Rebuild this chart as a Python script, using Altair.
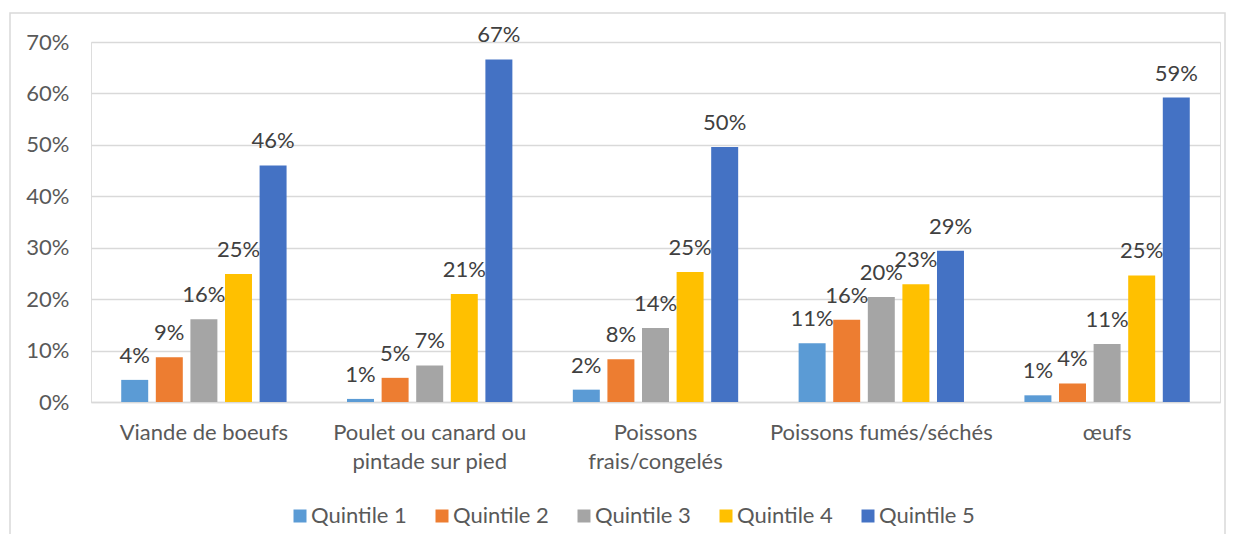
import altair as alt
import pandas as pd

categories = ["Viande de boeufs", "Poulet ou canard ou pintade sur pied",
              "Poissons frais/congelés", "Poissons fumés/séchés", "œufs"]
quintiles = ["Quintile 1", "Quintile 2", "Quintile 3", "Quintile 4", "Quintile 5"]
q1 = [0.043, 0.006, 0.024, 0.114, 0.013]
q2 = [0.087, 0.047, 0.083, 0.160, 0.036]
q3 = [0.161, 0.071, 0.144, 0.204, 0.113]
q4 = [0.249, 0.210, 0.253, 0.229, 0.246]
q5 = [0.460, 0.666, 0.496, 0.294, 0.592]
colors = ["#5B9BD5", "#ED7D31", "#A5A5A5", "#FFC000", "#4472C4"]

series = [q1, q2, q3, q4, q5]
rows = []
for qi, q in enumerate(quintiles):
    for ci, c in enumerate(categories):
        rows.append({"cat": c, "quintile": q, "value": series[qi][ci]})
df = pd.DataFrame(rows)

FONT = "Lato"
FS = 22
label_expr = (
    "datum.value == 'Poulet ou canard ou pintade sur pied' ? ['Poulet ou canard ou', 'pintade sur pied'] : "
    "datum.value == 'Poissons frais/congelés' ? ['Poissons', 'frais/congelés'] : datum.value"
)

x = alt.X("cat:N", sort=categories, title=None,
          scale=alt.Scale(paddingInner=0.234, paddingOuter=0.117),
          axis=alt.Axis(labelAngle=0, labelExpr=label_expr, labelFontSize=FS,
                        labelColor="#595959", labelFont=FONT, ticks=False,
                        domainColor="#d9d9d9", domainWidth=1.5, labelPadding=20,
                        labelLineHeight=29, labelBaseline="top", grid=False,
                        labelLimit=400))
xo = alt.XOffset("quintile:N", sort=quintiles,
                 scale=alt.Scale(paddingInner=0.22, paddingOuter=0.11))
y = alt.Y("value:Q", title=None,
          scale=alt.Scale(domain=[0, 0.7], nice=False),
          axis=alt.Axis(format=".0%", values=[0, 0.1, 0.2, 0.3, 0.4, 0.5, 0.6, 0.7],
                        labelFontSize=FS, labelColor="#595959", labelFont=FONT,
                        ticks=False, domain=False, gridColor="#d9d9d9",
                        gridWidth=1.3, labelPadding=22))

bars = alt.Chart(df).mark_bar().encode(
    x=x, xOffset=xo, y=y,
    color=alt.Color("quintile:N", sort=quintiles,
                    scale=alt.Scale(domain=quintiles, range=colors),
                    legend=alt.Legend(title=None, orient="none", direction="horizontal",
                                      legendX=198, legendY=463,
                                      symbolType="square", symbolSize=169,
                                      symbolStrokeWidth=0, labelFontSize=FS,
                                      labelColor="#595959", labelFont=FONT,
                                      columnPadding=24, labelOffset=0,
                                      labelLimit=300))
)

labels = alt.Chart(df).mark_text(
    baseline="alphabetic", dy=-17, fontSize=FS, font=FONT, color="#404040"
).encode(
    x=alt.X("cat:N", sort=categories),
    xOffset=alt.XOffset("quintile:N", sort=quintiles),
    y="value:Q",
    text=alt.Text("value:Q", format=".0%"),
)

border = alt.Chart(pd.DataFrame({"a": [0]})).mark_rect(
    fill=None, stroke="#d9d9d9", strokeWidth=1.5
).encode(x=alt.value(-81), x2=alt.value(1134), y=alt.value(-29), y2=alt.value(600))

chart = alt.layer(border, bars, labels).properties(
    width=1129, height=360,
    autosize=alt.AutoSizeParams(type="none"),
    padding={"left": 83, "top": 34, "right": 6, "bottom": 132},
).configure_view(stroke=None).configure(background="white")

chart.save("out.html", embed_options={"renderer": "svg", "actions": False})
